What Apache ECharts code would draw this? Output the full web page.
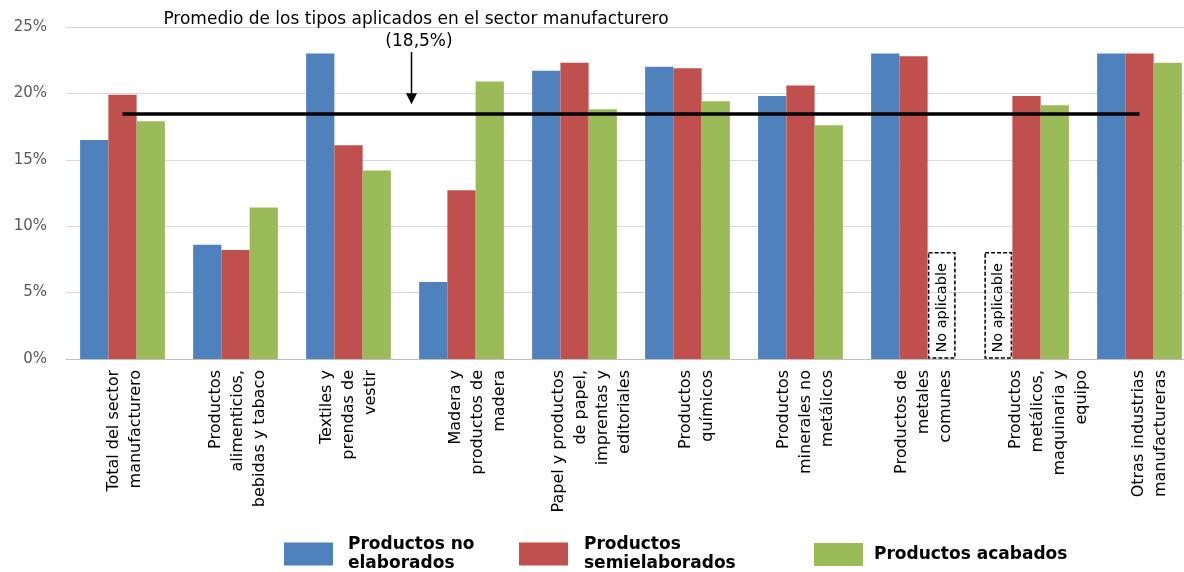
<!DOCTYPE html>
<html>
<head>
<meta charset="utf-8">
<script src="https://cdn.jsdelivr.net/npm/echarts@6/dist/echarts.min.js"></script>
<style>
  html, body { margin: 0; padding: 0; background: #fff; }
  #main { width: 1184px; height: 572px; }
</style>
</head>
<body>
<div id="main"></div>
<script>
// Sector categories (line breaks as shown under the axis)
const categories = [
  'Total del sector\nmanufacturero',
  'Productos\nalimenticios,\nbebidas y tabaco',
  'Textiles y\nprendas de\nvestir',
  'Madera y\nproductos de\nmadera',
  'Papel y productos\nde papel,\nimprentas y\neditoriales',
  'Productos\nquímicos',
  'Productos\nminerales no\nmetálicos',
  'Productos de\nmetales\ncomunes',
  'Productos\nmetálicos,\nmaquinaria y\nequipo',
  'Otras industrias\nmanufactureras'
];

// Applied tariff rates (%) by processing stage; null = not applicable
const noElaborados   = [16.5, 8.6, 23.0, 5.8, 21.7, 22.0, 19.8, 23.0, null, 23.0];
const semielaborados = [19.9, 8.2, 16.1, 12.7, 22.3, 21.9, 20.6, 22.8, 19.8, 23.0];
const acabados       = [17.9, 11.4, 14.2, 20.9, 18.8, 19.4, 17.6, null, 19.1, 22.3];

// Manufacturing-sector average rate (%)
const promedio = 18.5;

// Value axis ticks (%)
const yMin = 0, yMax = 25, yStep = 5;

// Height (in %) of the "No aplicable" placeholder boxes
const placeholderHeight = 8;

// Sideways nudge (px, to the right) of each rotated category label block
const labelShift = [2, 2.5, 0, 16, 17, 9, 5.5, 10, 22, 10];

const seriesNames = ['Productos no elaborados', 'Productos semielaborados', 'Productos acabados'];
const legendLabels = {
  'Productos no elaborados': 'Productos no\nelaborados',
  'Productos semielaborados': 'Productos\nsemielaborados',
  'Productos acabados': 'Productos acabados'
};
const colors = ['#4F81BD', '#C0504D', '#9BBB59'];
const seriesData = [noElaborados, semielaborados, acabados];

const FONT = '"DejaVu Sans", Verdana, sans-serif';

// Rich styles: a thin spacer line in front of a label pushes the rotated block sideways
const labelRich = {};
labelShift.forEach((s, i) => {
  labelRich['sp' + i] = { fontSize: 1, lineHeight: Math.max(1, 2 * s), color: 'rgba(0,0,0,0)' };
});

const chart = echarts.init(document.getElementById('main'));

function legendFor(name, left, top, textPad) {
  return {
    data: [name],
    left: left,
    top: top,
    orient: 'horizontal',
    itemWidth: 49,
    itemHeight: 23,
    icon: 'rect',
    selectedMode: false,
    formatter: n => legendLabels[n],
    textStyle: {
      fontFamily: FONT,
      fontWeight: 'bold',
      fontSize: 17,
      lineHeight: 19,
      color: '#000',
      padding: [0, 0, 0, textPad]
    }
  };
}

const option = {
  animation: false,
  color: colors,
  grid: { left: 66, top: 27, width: 1130, bottom: 213, outerBoundsMode: 'none', containLabel: false },
  legend: [
    legendFor(seriesNames[0], 279, 530, 10),
    legendFor(seriesNames[1], 514, 530, 11),
    legendFor(seriesNames[2], 809, 538, 6)
  ],
  xAxis: {
    type: 'category',
    data: categories,
    axisTick: { show: false },
    axisLine: { lineStyle: { color: '#BFBFBF', width: 1 } },
    axisLabel: {
      interval: 0,
      rotate: 90,
      margin: 11,
      fontFamily: FONT,
      fontSize: 16,
      lineHeight: 22,
      color: '#000',
      formatter: (value, index) => (labelShift[index] > 0 ? '{sp' + index + '| }\n' : '') + value,
      rich: labelRich
    }
  },
  yAxis: {
    type: 'value',
    min: yMin,
    max: yMax,
    interval: yStep,
    axisLine: { show: false },
    axisTick: { show: false },
    splitLine: { lineStyle: { color: '#D9D9D9', width: 1 } },
    axisLabel: {
      formatter: '{value}%',
      margin: 19,
      fontFamily: FONT,
      fontSize: 15,
      color: '#595959'
    }
  },
  series: seriesData.map((d, i) => ({
    name: seriesNames[i],
    type: 'bar',
    data: d,
    barGap: '0%',
    barCategoryGap: '25%',
    itemStyle: { color: colors[i] },
    // the middle series sits on the category centre, so the average line runs centre to centre
    markLine: i === 1 ? {
      silent: true,
      symbol: ['none', 'none'],
      label: { show: false },
      lineStyle: { color: '#000', width: 3.5, type: 'solid' },
      data: [[
        { coord: [0, promedio] },
        { coord: [categories.length - 1, promedio] }
      ]]
    } : undefined
  }))
};

chart.setOption(option);

// Annotation, arrow and "No aplicable" boxes, placed through the axes
function drawOverlay() {
  const graphics = [];
  const lineY = chart.convertToPixel({ yAxisIndex: 0 }, promedio);
  const arrowX = 411.5;
  const tipY = lineY - 9;

  graphics.push({
    type: 'text', x: 416, y: 20,
    style: {
      text: 'Promedio de los tipos aplicados en el sector manufacturero',
      fontFamily: FONT, fontSize: 17, fill: '#000',
      textAlign: 'center', textVerticalAlign: 'middle'
    }
  });
  graphics.push({
    type: 'text', x: 419, y: 42,
    style: {
      text: '(18,5%)',
      fontFamily: FONT, fontSize: 17, fill: '#000',
      textAlign: 'center', textVerticalAlign: 'middle'
    }
  });
  graphics.push({
    type: 'line',
    shape: { x1: arrowX, y1: 52, x2: arrowX, y2: tipY - 8 },
    style: { stroke: '#000', lineWidth: 1.5 }
  });
  graphics.push({
    type: 'polygon',
    shape: { points: [[arrowX - 5.5, tipY - 11], [arrowX + 5.5, tipY - 11], [arrowX, tipY]] },
    style: { fill: '#000' }
  });

  // Bar slot geometry from the category axis
  const c0 = chart.convertToPixel({ xAxisIndex: 0 }, 0);
  const c1 = chart.convertToPixel({ xAxisIndex: 0 }, 1);
  const band = c1 - c0;
  const barW = band * 0.75 / seriesData.length;
  const y0 = chart.convertToPixel({ yAxisIndex: 0 }, 0);
  const yTop = chart.convertToPixel({ yAxisIndex: 0 }, placeholderHeight);

  seriesData.forEach((d, s) => {
    d.forEach((v, ci) => {
      if (v !== null) return;
      const cx = chart.convertToPixel({ xAxisIndex: 0 }, ci) + (s - 1) * barW;
      const w = barW - 2;
      graphics.push({
        type: 'rect',
        shape: { x: cx - w / 2, y: yTop, width: w, height: y0 - yTop - 1 },
        style: { fill: 'none', stroke: '#000', lineWidth: 1.5, lineDash: [4, 2] }
      });
      graphics.push({
        type: 'text',
        x: cx, y: (yTop + y0) / 2 + 2,
        rotation: Math.PI / 2,
        style: {
          text: 'No aplicable',
          fontFamily: FONT, fontSize: 14.5, fill: '#000',
          textAlign: 'center', textVerticalAlign: 'middle'
        }
      });
    });
  });

  chart.setOption({ graphic: graphics });
}

drawOverlay();
</script>
</body>
</html>
